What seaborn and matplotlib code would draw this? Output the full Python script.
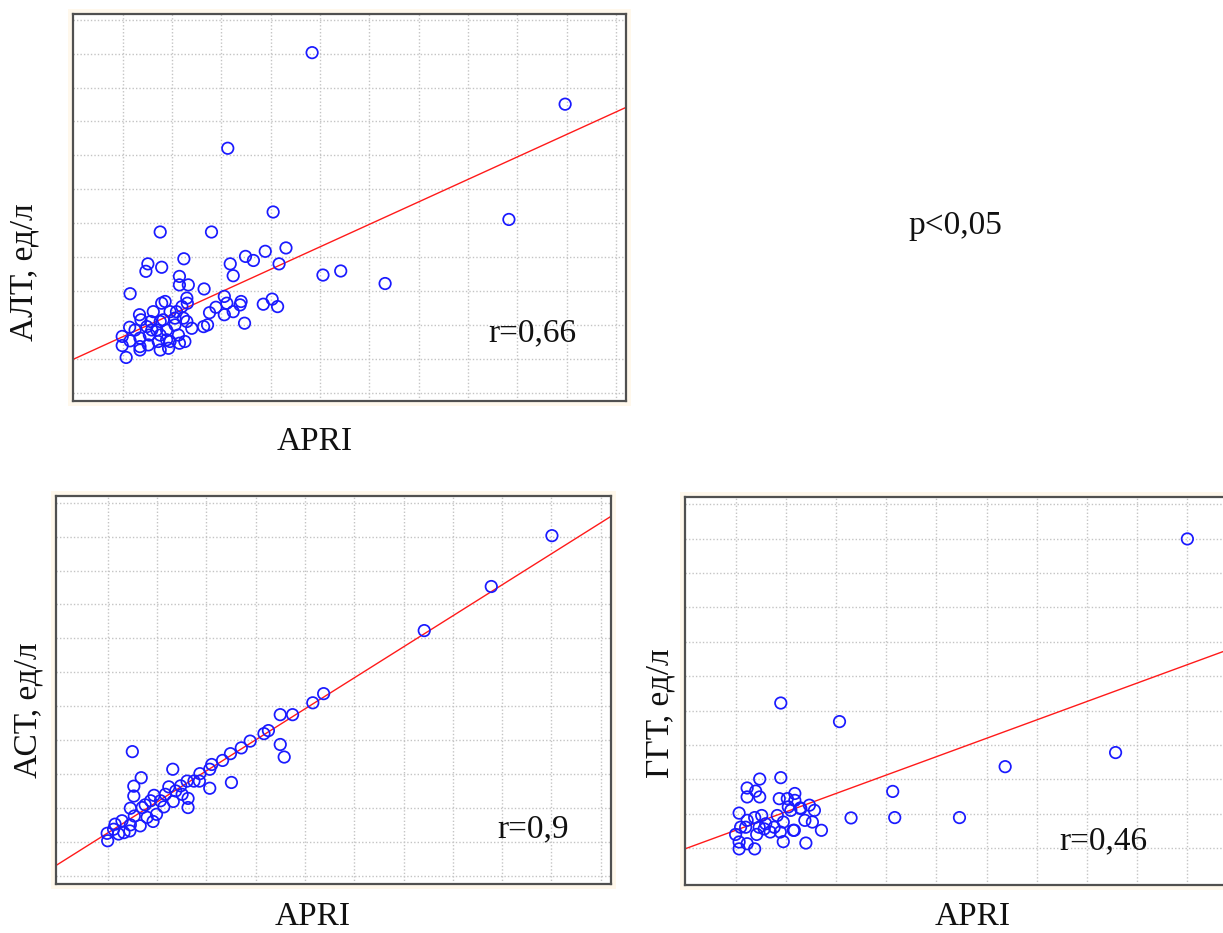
import numpy as np
import pandas as pd
import matplotlib
matplotlib.use("Agg")
import matplotlib.pyplot as plt
from matplotlib.patches import Rectangle
import seaborn as sns

# ---------------- data (grid units) ----------------
alt_x = [3.84, 8.97, 2.13, 3.05, 7.83, 0.76, 1.80, 3.31, 4.06, 4.42, 5.32,
         0.07, -0.01, -0.01, 0.15, 0.14, 0.34, 0.37, 0.35, 0.35, 0.35, 0.52, 0.54,
         0.57, 0.62, 0.69, 0.72, 0.76, 0.79, 0.86, 0.82, 0.89, 0.96, 0.93, 1.06,
         1.13, 1.15, 1.09, 1.20, 1.23, 1.26, 1.30, 1.40, 1.64, 1.72, 1.76, 1.89,
         2.06, 2.06, 2.24, 2.11, 2.40, 2.38, 2.47, 2.85, 3.03, 3.14, 0.15, 1.15,
         1.15, 1.33, 1.30, 1.65, 2.18, 2.24, 0.51, 0.47, 0.79, 1.24, 2.49, 2.65,
         2.89, 3.17, 1.31, 0.59, 0.76, 0.89, 0.49, 0.25, 0.76, 1.06, 0.96]
alt_y = [10.03, 8.51, 7.21, 5.33, 5.11, 4.74, 4.74, 4.27, 3.47, 3.59, 3.22,
         1.04, 1.39, 1.66, 1.53, 1.93, 2.30, 2.15, 1.61, 1.36, 1.26, 1.41, 1.70,
         2.10, 2.39, 1.85, 1.51, 1.26, 2.64, 2.69, 2.15, 1.85, 2.39, 1.31, 2.00,
         1.70, 1.46, 2.39, 2.54, 2.20, 1.51, 2.10, 1.90, 1.95, 2.00, 2.36, 2.52,
         2.84, 2.30, 2.39, 2.64, 2.69, 2.59, 2.05, 2.61, 2.76, 2.54, 2.92, 3.43,
         3.18, 3.18, 2.79, 3.06, 3.80, 3.45, 3.80, 3.58, 3.70, 3.95, 4.02, 3.90,
         4.17, 3.80, 2.64, 1.85, 2.10, 1.56, 1.95, 1.85, 1.70, 2.20, 1.51]

ast_x = [9.01, 7.78, 6.42, 4.38, 4.16,
         0.00, -0.01, 0.12, 0.22, 0.15, 0.29, 0.46, 0.46, 0.54, 0.66, 0.70, 0.80,
         0.76, 0.92, 0.99, 0.94, 1.07, 1.14, 1.24, 1.33, 1.48, 1.61, 1.63, 1.63,
         1.51, 1.38, 0.50, 0.68, 0.53, 0.53, 1.32, 1.87, 1.86, 2.07, 2.07, 2.11,
         2.33, 2.49, 2.71, 2.89, 3.17, 3.26, 2.51, 3.50, 3.58, 3.50, 3.75, 0.45,
         0.33, 0.87, 1.17, 1.75]
ast_y = [10.03, 8.53, 7.23, 5.37, 5.10,
         1.03, 1.25, 1.37, 1.23, 1.52, 1.62, 1.50, 1.99, 1.76, 1.47, 2.01, 1.72,
         2.09, 1.60, 1.81, 2.37, 2.21, 2.03, 2.62, 2.19, 2.65, 2.79, 2.28, 2.01,
         2.40, 2.50, 3.66, 2.89, 2.64, 2.35, 3.14, 3.01, 2.79, 2.58, 3.14, 3.28,
         3.40, 3.60, 3.77, 3.97, 4.19, 4.28, 2.75, 3.87, 3.50, 4.75, 4.75, 1.32,
         1.27, 2.21, 2.40, 2.79]

ggt_x = [9.00, 7.57, 5.37, 3.13, 3.17, 4.46,
         0.90, 2.07, 0.48, 0.90, 0.23, 0.40, 0.23, 0.48, 1.18, 0.87, 1.03, 1.18,
         1.05, 1.10, 1.29, 1.47, 1.57, 2.30, 0.07, 0.23, 0.38, 0.52, 0.83, 0.47,
         0.60, 0.20, 0.10, 0.00, 0.42, 0.69, 0.89, 0.95, 1.15, 1.38, 1.53, 1.71,
         1.30, 0.07, 0.07, 0.23, 0.38, 0.95, 1.40, 1.17, 0.77, 0.57]
ggt_y = [8.99, 2.78, 2.37, 1.65, 0.89, 0.89,
         4.22, 3.68, 2.01, 2.05, 1.75, 1.66, 1.49, 1.49, 1.59, 1.44, 1.44, 1.39,
         1.20, 1.10, 1.17, 1.25, 1.10, 0.88, 1.02, 0.81, 0.89, 0.95, 0.95, 0.61,
         0.71, 0.61, 0.61, 0.40, 0.40, 0.47, 0.47, 0.76, 0.52, 0.81, 0.76, 0.52,
         1.15, 0.18, -0.02, 0.13, -0.02, 0.19, 0.15, 0.52, 0.61, 0.56]

# regression lines: (intercept, slope)
alt_fit = (1.65, 0.663)
ast_fit = (1.26, 0.915)
ggt_fit = (0.52, 0.535)

ylabels = ["АЛТ, ед/л", "АСТ, ед/л", "ГГТ, ед/л"]
xlabel = "APRI"
r_labels = ["r=0,66", "r=0,9", "r=0,46"]
p_label = "p<0,05"

# ---------------- figure ----------------
sns.set_theme(style="white")
plt.rcParams["font.family"] = ["Liberation Serif", "DejaVu Serif"]

W, H = 1223, 933
fig = plt.figure(figsize=(W / 100, H / 100), dpi=100)
fig.patch.set_facecolor("white")


def px_axes(left, top, right, bottom):
    return [left / W, 1 - bottom / H, (right - left) / W, (bottom - top) / H]


panels = [
    dict(box=(72.7, 14, 625.8, 400.7), xlim=(-1.014, 10.2), ylim=(-0.236, 11.17),
         nx=10, ny=11, x=alt_x, y=alt_y, fit=alt_fit),
    dict(box=(56.4, 496, 610.6, 884), xlim=(-1.04, 10.2), ylim=(-0.245, 11.2),
         nx=10, ny=11, x=ast_x, y=ast_y, fit=ast_fit),
    dict(box=(685.4, 497.3, 1247.6, 885), xlim=(-1.0, 10.2), ylim=(-1.07, 10.2),
         nx=10, ny=10, x=ggt_x, y=ggt_y, fit=ggt_fit),
]

for p in panels:
    l, t, r, b = p["box"]
    pad = 5
    fig.patches.append(Rectangle(((l - pad) / W, 1 - (b + pad) / H),
                                 (r - l + 2 * pad) / W, (b - t + 2 * pad) / H,
                                 transform=fig.transFigure, facecolor="#fff8ec",
                                 edgecolor="none", zorder=-10))
    ax = fig.add_axes(px_axes(l, t, r, b))
    ax.set_zorder(1)
    ax.set_facecolor("white")
    df = pd.DataFrame({"x": p["x"], "y": p["y"]})
    sns.scatterplot(data=df, x="x", y="y", ax=ax, marker="o", s=68,
                    facecolor="none", edgecolor="#1a1aff", linewidth=1.25,
                    zorder=3)
    x0, x1 = p["xlim"]
    b0, m = p["fit"]
    sns.lineplot(x=[x0, x1], y=[b0 + m * x0, b0 + m * x1], ax=ax,
                 color="#ff1a1a", linewidth=1.0, zorder=2)
    ax.set_xlim(*p["xlim"])
    ax.set_ylim(*p["ylim"])
    ax.set_xticks(range(0, p["nx"] + 1))
    ax.set_yticks(range(0, p["ny"] + 1))
    ax.tick_params(length=0, labelbottom=False, labelleft=False)
    ax.grid(True, color="#c4c4c4", linestyle=(0, (1, 1.5)), linewidth=1.0)
    ax.set_xlabel("")
    ax.set_ylabel("")
    for s in ax.spines.values():
        s.set_color("#505050")
        s.set_linewidth(1.6)

fs = 24


def ftext(x, y, s, **kw):
    fig.text(x / W, 1 - y / H, s, fontsize=fs, color="#111111", **kw)


# y labels (rotated)
ftext(24, 272, ylabels[0], rotation=90, ha="center", va="center")
ftext(28, 710, ylabels[1], rotation=90, ha="center", va="center")
ftext(660, 713, ylabels[2], rotation=90, ha="center", va="center")

# x labels
ftext(315, 450, xlabel, ha="center", va="baseline")
ftext(313, 925, xlabel, ha="center", va="baseline")
ftext(973, 925, xlabel, ha="center", va="baseline")

# r values
ftext(488, 341, r_labels[0], ha="left", va="baseline")
ftext(497, 837, r_labels[1], ha="left", va="baseline")
ftext(1059, 849, r_labels[2], ha="left", va="baseline")

# p value
ftext(955, 234, p_label, ha="center", va="baseline")

fig.savefig("out.png", dpi=100)
